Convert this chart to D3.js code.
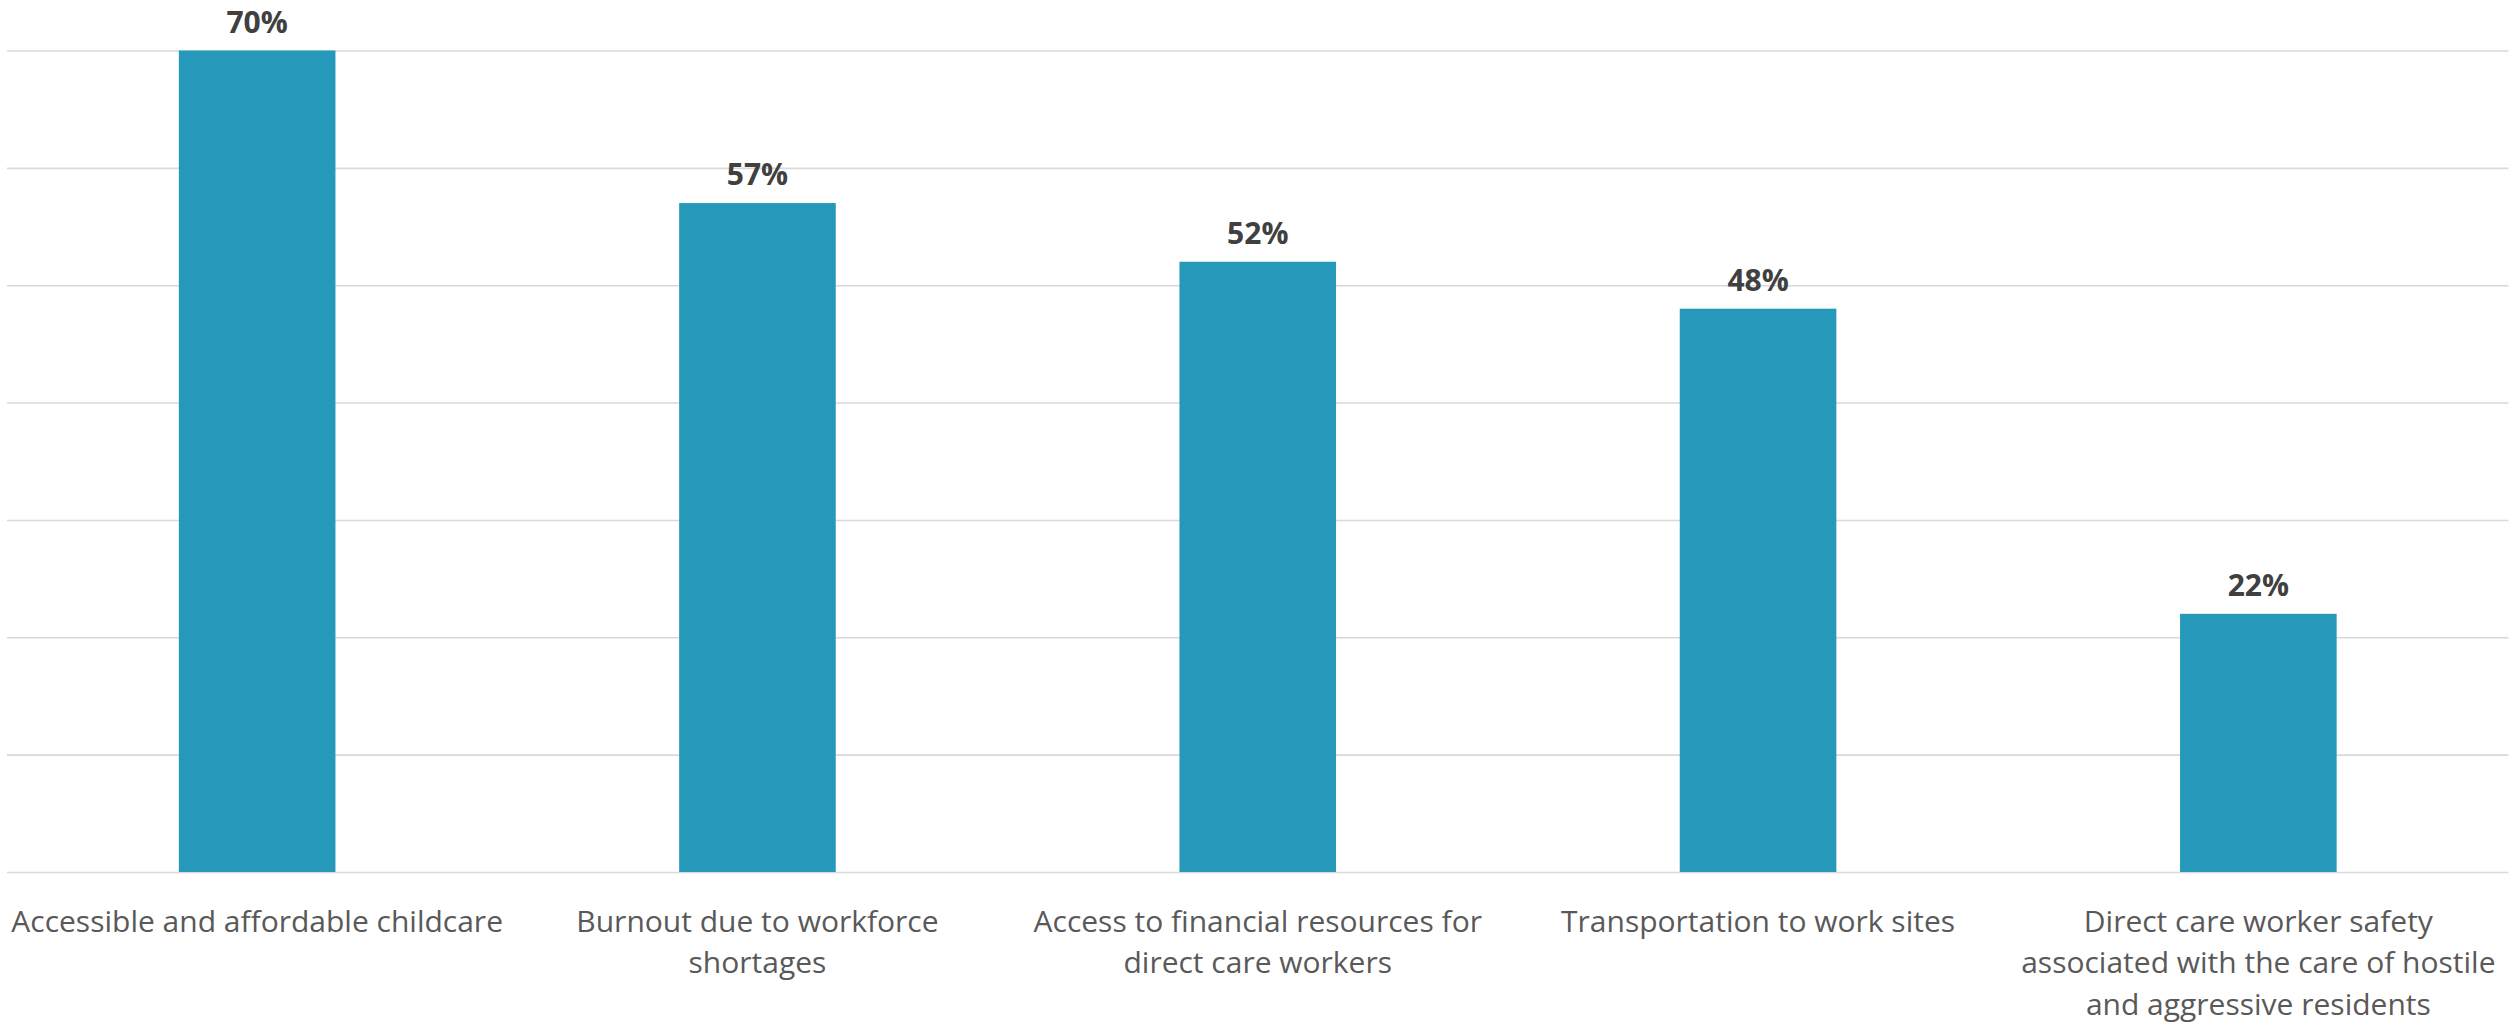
<!DOCTYPE html>
<html>
<head>
<meta charset="utf-8">
<script src="https://cdn.jsdelivr.net/npm/d3@7"></script>
<style>
  html, body { margin: 0; padding: 0; background: #ffffff; }
  svg { display: block; }
</style>
</head>
<body>
<div id="chart"></div>
<script>
// Barriers reported (share of respondents)
const categories = [
  "Accessible and affordable childcare",
  "Burnout due to workforce shortages",
  "Access to financial resources for direct care workers",
  "Transportation to work sites",
  "Direct care worker safety associated with the care of hostile and aggressive residents"
];
// Wrapped lines for the axis labels
const categoryLines = [
  ["Accessible and affordable childcare"],
  ["Burnout due to workforce", "shortages"],
  ["Access to financial resources for", "direct care workers"],
  ["Transportation to work sites"],
  ["Direct care worker safety", "associated with the care of hostile", "and aggressive residents"]
];
const values = [0.70, 0.57, 0.52, 0.48, 0.22];
const gridTicks = [0, 0.1, 0.2, 0.3, 0.4, 0.5, 0.6, 0.7];

const W = 2515, H = 1025;
const plotLeft = 7, plotRight = 2508.5, plotTop = 50.5, plotBottom = 872;

const svg = d3.select("#chart").append("svg")
  .attr("width", W).attr("height", H);

const x = d3.scaleBand()
  .domain(categories)
  .range([plotLeft, plotRight])
  .paddingInner(0.687)
  .paddingOuter(0.3435);

const y = d3.scaleLinear()
  .domain([0, 0.7])
  .range([plotBottom, plotTop]);

// Horizontal gridlines (including the baseline)
const grid = svg.append("g")
  .attr("transform", `translate(${plotLeft},0)`)
  .call(d3.axisLeft(y).tickValues(gridTicks).tickSize(-(plotRight - plotLeft)).tickFormat(""));
grid.select(".domain").remove();
grid.selectAll(".tick line")
  .attr("stroke", "#d9d9d9")
  .attr("stroke-width", 1.6);

// Bars
svg.append("g").selectAll("rect")
  .data(values)
  .join("rect")
  .attr("x", (d, i) => x(categories[i]))
  .attr("y", d => y(d))
  .attr("width", x.bandwidth())
  .attr("height", d => y(0) - y(d))
  .attr("fill", "#2698ba");

// Value labels
svg.append("g").selectAll("text")
  .data(values)
  .join("text")
  .attr("x", (d, i) => x(categories[i]) + x.bandwidth() / 2)
  .attr("y", d => y(d) - 18)
  .attr("text-anchor", "middle")
  .attr("font-family", "'Open Sans', sans-serif")
  .attr("font-weight", 700)
  .attr("font-size", 30)
  .attr("fill", "#404040")
  .text(d => d3.format(".0%")(d));

// Category axis
const xAxis = svg.append("g")
  .attr("transform", `translate(0,${plotBottom})`)
  .call(d3.axisBottom(x).tickSize(0).tickFormat(""));
xAxis.select(".domain").remove();
xAxis.selectAll(".tick text").remove();
xAxis.selectAll(".tick").each(function(d, i) {
  const t = d3.select(this).append("text")
    .attr("text-anchor", "middle")
    .attr("font-family", "'Open Sans', sans-serif")
    .attr("font-size", 30)
    .attr("fill", "#595959");
  categoryLines[i].forEach((line, k) => {
    t.append("tspan")
      .attr("x", 0)
      .attr("y", 59.5 + k * 41.7)
      .text(line);
  });
});
</script>
</body>
</html>
